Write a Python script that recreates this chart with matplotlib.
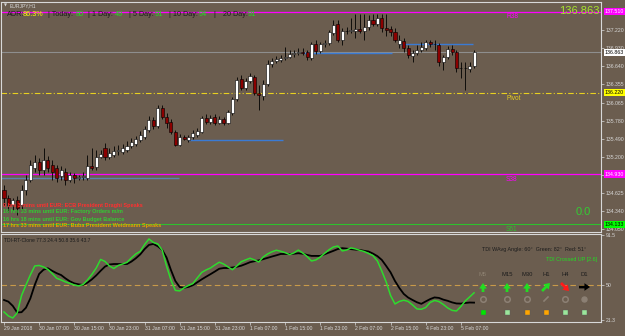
import numpy as np
import matplotlib.pyplot as plt
import matplotlib.transforms as mtransforms

plt.rcParams['font.family'] = ['Liberation Sans', 'DejaVu Sans']

# EURJPY H1 candles (29 Jan 2018 23:00 -> 5 Feb 2018 07:00)
opens = [134.676, 134.549, 134.438, 134.517, 134.438, 134.676, 134.835, 135.026, 135.121, 134.994,
         135.153, 135.074, 135.026, 134.899, 134.962, 134.835, 134.915, 134.867, 134.883, 134.867,
         135.058, 135.042, 135.201, 135.344, 135.201, 135.233, 135.296, 135.280, 135.312, 135.376,
         135.407, 135.471, 135.519, 135.630, 135.789, 135.694, 135.980, 135.837, 135.757, 135.598,
         135.392, 135.519, 135.471, 135.519, 135.551, 135.598, 135.821, 135.757, 135.837, 135.741,
         135.805, 135.741, 135.900, 136.123, 136.441, 136.298, 136.409, 136.473, 136.218, 136.171,
         136.361, 136.679, 136.727, 136.743, 136.775, 136.791, 136.838, 136.854, 136.870, 136.870,
         136.775, 136.997, 136.886, 136.997, 137.013, 137.172, 137.315, 137.061, 137.204, 137.204,
         137.204, 137.236, 137.204, 137.268, 137.379, 137.315, 137.411, 137.252, 137.236, 137.188,
         136.997, 137.045, 136.934, 136.807, 136.854, 136.902, 136.934, 137.029, 136.997, 136.982,
         136.711, 136.791, 136.918, 136.870, 136.616, 136.610, 136.600, 136.648]
highs = [134.756, 134.597, 134.549, 134.581, 134.756, 134.915, 135.153, 135.233, 135.185, 135.344,
         135.217, 135.153, 135.074, 135.058, 135.026, 134.962, 134.946, 134.915, 134.962, 135.233,
         135.344, 135.312, 135.312, 135.423, 135.344, 135.376, 135.392, 135.407, 135.455, 135.503,
         135.535, 135.614, 135.694, 135.853, 135.837, 136.027, 136.027, 135.900, 135.805, 135.630,
         135.566, 135.551, 135.551, 135.630, 135.662, 135.853, 135.884, 135.868, 135.884, 135.853,
         135.837, 135.948, 136.155, 136.473, 136.505, 136.457, 136.536, 136.505, 136.346, 136.425,
         136.743, 136.775, 136.807, 136.822, 136.950, 136.902, 136.902, 136.934, 136.934, 136.902,
         137.029, 137.061, 137.029, 137.061, 137.220, 137.379, 137.379, 137.252, 137.268, 137.411,
         137.474, 137.474, 137.474, 137.458, 137.474, 137.474, 137.474, 137.474, 137.284, 137.252,
         137.141, 137.093, 136.982, 136.902, 136.982, 137.029, 137.061, 137.061, 137.061, 137.013,
         136.822, 136.966, 136.982, 136.902, 136.711, 136.711, 136.711, 136.902]
lows = [134.438, 134.326, 134.358, 134.279, 134.358, 134.597, 134.803, 134.962, 134.915, 134.915,
        134.962, 134.835, 134.803, 134.835, 134.756, 134.803, 134.787, 134.835, 134.835, 134.835,
        134.994, 134.994, 135.185, 135.153, 135.169, 135.201, 135.233, 135.248, 135.280, 135.344,
        135.376, 135.439, 135.487, 135.598, 135.646, 135.662, 135.805, 135.662, 135.566, 135.376,
        135.376, 135.471, 135.439, 135.487, 135.519, 135.582, 135.725, 135.725, 135.710, 135.725,
        135.710, 135.725, 135.868, 136.091, 136.266, 136.266, 136.377, 136.187, 135.948, 136.107,
        136.330, 136.632, 136.695, 136.711, 136.743, 136.775, 136.791, 136.822, 136.822, 136.743,
        136.743, 136.838, 136.854, 136.950, 136.982, 137.141, 137.029, 136.982, 137.156, 137.172,
        137.093, 137.172, 137.061, 137.220, 137.284, 137.284, 137.188, 137.125, 137.125, 137.029,
        136.934, 136.870, 136.775, 136.711, 136.822, 136.870, 136.902, 136.950, 136.902, 136.648,
        136.584, 136.759, 136.822, 136.552, 136.457, 136.266, 136.552, 136.616]
closes = [134.549, 134.438, 134.517, 134.390, 134.676, 134.835, 135.074, 135.121, 134.994, 135.153,
          135.026, 134.962, 134.867, 134.994, 134.835, 134.915, 134.867, 134.883, 134.899, 135.058,
          135.026, 135.201, 135.248, 135.201, 135.264, 135.296, 135.312, 135.344, 135.376, 135.439,
          135.487, 135.551, 135.646, 135.789, 135.694, 135.980, 135.837, 135.741, 135.598, 135.392,
          135.519, 135.487, 135.519, 135.582, 135.614, 135.821, 135.757, 135.821, 135.741, 135.805,
          135.741, 135.916, 136.123, 136.425, 136.298, 136.409, 136.489, 136.218, 136.187, 136.361,
          136.679, 136.727, 136.759, 136.775, 136.791, 136.838, 136.854, 136.870, 136.854, 136.791,
          136.997, 136.886, 136.997, 137.013, 137.188, 137.300, 137.061, 137.204, 137.210, 137.220,
          137.236, 137.204, 137.268, 137.379, 137.315, 137.411, 137.252, 137.220, 137.188, 137.061,
          137.061, 136.934, 136.822, 136.854, 136.902, 136.950, 137.029, 136.997, 136.990, 136.711,
          136.791, 136.918, 136.870, 136.616, 136.610, 136.622, 136.648, 136.863]

# TDI-RT-Clone lines
tdi_green = [27.9, 24.6, 22.9, 27.1, 41.5, 50.2, 58.5, 65.9, 66.3, 65.1,
             63.0, 59.6, 55.7, 54.3, 52.7, 51.5, 50.2, 49.4, 50.6, 54.3,
             58.9, 64.2, 71.3, 69.6, 65.9, 63.8, 66.3, 67.5, 68.9, 72.5,
             75.8, 77.9, 83.6, 88.2, 85.3, 84.1, 79.1, 65.9, 54.3, 45.7,
             45.3, 47.9, 49.8, 51.4, 56.0, 60.5, 62.6, 64.2, 66.7, 69.0,
             67.5, 65.1, 62.8, 65.9, 69.4, 70.9, 72.3, 70.9, 69.2, 73.3,
             75.8, 77.6, 78.9, 78.0, 76.9, 75.3, 76.7, 79.0, 76.6, 73.7,
             70.0, 70.9, 73.3, 76.4, 79.3, 81.6, 82.4, 78.3, 79.1, 80.8,
             80.0, 78.8, 77.8, 76.2, 74.4, 70.0, 61.7, 52.7, 41.5, 34.5,
             36.6, 37.6, 36.6, 33.7, 30.4, 30.1, 31.6, 35.7, 37.4, 36.5,
             34.1, 31.2, 29.2, 28.7, 32.4, 37.0, 40.3, 43.7]
tdi_signal = [37.8, 36.4, 32.9, 27.5, 27.7, 31.4, 39.1, 50.2, 59.3, 62.8,
              64.0, 61.8, 59.9, 58.4, 55.6, 53.2, 51.5, 50.7, 50.2, 52.1,
              54.8, 58.1, 61.9, 65.4, 67.1, 67.5, 67.5, 67.5, 67.5, 69.5,
              72.2, 75.4, 79.8, 83.3, 84.1, 82.2, 79.2, 72.9, 62.6, 53.5,
              48.5, 47.9, 48.6, 50.0, 52.4, 54.8, 57.0, 59.1, 61.3, 63.6,
              64.2, 64.2, 64.6, 65.2, 66.1, 67.5, 69.0, 69.8, 70.5, 71.5,
              72.6, 73.7, 74.7, 75.8, 75.8, 75.8, 76.0, 76.4, 76.0, 75.0,
              74.2, 74.2, 74.2, 75.6, 77.0, 78.4, 79.9, 80.6, 80.2, 79.8,
              79.4, 79.1, 78.4, 77.8, 76.1, 74.0, 70.9, 65.9, 60.6, 53.5,
              47.7, 42.8, 39.8, 37.8, 35.9, 34.6, 36.6, 38.5, 39.9, 39.5,
              38.1, 37.1, 35.8, 34.9, 34.8, 35.3, 35.7, 35.6]

time_labels = ['29 Jan 2018', '30 Jan 07:00', '30 Jan 15:00', '30 Jan 23:00', '31 Jan 07:00',
               '31 Jan 15:00', '31 Jan 23:00', '1 Feb 07:00', '1 Feb 15:00', '1 Feb 23:00',
               '2 Feb 07:00', '2 Feb 15:00', '4 Feb 23:00', '5 Feb 07:00']
label_bars = [0, 8, 16, 24, 32, 40, 48, 56, 64, 72, 80, 88, 96, 104]

price_ticks = [137.220, 136.930, 136.640, 136.355, 136.065, 135.780, 135.490,
               135.200, 134.915, 134.625, 134.340, 134.050]

# pivot levels
pivot = 136.220
r38 = 137.510
s38 = 134.930
s61 = 134.133
bid = 136.863

# support / resistance segments: (start bar, end bar, price)
seg_start = [-0.7, 41.8, 68.2, 90.2]
seg_end = [39.8, 63.6, 88.4, 106.8]
seg_price = [134.867, 135.471, 136.860, 136.997]

bg = '#6B5D4F'
axcol = '#D8D8D8'
dark = '#1C1C1C'

fig = plt.figure(figsize=(6.25, 3.36), dpi=100, facecolor=bg)
ax = fig.add_axes([1 / 625, 104 / 336, 600 / 625, 230 / 336], facecolor=bg)
ax2 = fig.add_axes([1 / 625, 14 / 336, 600 / 625, 88 / 336], facecolor=bg)

n = len(closes)
x = np.arange(n)
o = np.array(opens)
c = np.array(closes)
up = c >= o

ax.vlines(x, lows, highs, color='black', lw=0.6, zorder=3)
ax.bar(x[up], (c - o)[up], bottom=o[up], width=0.7, color='white',
       edgecolor='black', lw=0.4, zorder=4)
ax.bar(x[~up], (c - o)[~up], bottom=o[~up], width=0.7, color='#8B0000',
       edgecolor='black', lw=0.4, zorder=4)

ax.axhline(r38, color='#FF00FF', lw=0.9, zorder=2)
ax.axhline(bid, color='#8E8E8E', lw=0.8, zorder=1)
ax.axhline(pivot, color='#E8D020', lw=0.8, ls=(0, (5, 2, 1, 2)), zorder=2)
ax.axhline(s38, color='#FF00FF', lw=0.9, zorder=2)
ax.axhline(s61, color='#2EC02E', lw=0.8, zorder=2)
for xs, xe, p in zip(seg_start, seg_end, seg_price):
    col = '#5C82B0' if xs < 0 else '#3A7BD5'
    ax.hlines(p, xs, xe, color=col, lw=1.0, zorder=2)

lvl_kw = dict(fontsize=4.7, va='top', ha='left')
ax.text(114.3, r38 - 0.02, 'R38', color='#FF00FF', **lvl_kw)
ax.text(114.3, pivot - 0.03, 'Pivot', color='#E8D020', **lvl_kw)
ax.text(114.3, s38 - 0.03, 'S38', color='#FF00FF', **lvl_kw)
ax.text(114.3, s61 - 0.03, 'S61', color='#2EC02E', **lvl_kw)

ax.set_xlim(-0.68, 135.9)
ax.set_ylim(134.008, 137.665)
ax.set_xticks([])
ax.yaxis.tick_right()
ax.set_yticks(price_ticks)
ax.set_yticklabels([f'{t:.3f}' for t in price_ticks])

# highlighted price labels on the axis
trans = mtransforms.blended_transform_factory(ax.transAxes, ax.transData)
for val, fc, tc in [(r38, '#FF00FF', 'white'), (bid, 'white', 'black'),
                    (pivot, '#FFFF00', 'black'), (s38, '#FF00FF', 'white'),
                    (s61, '#00FF00', 'black')]:
    ax.text(1.006, val, f'{val:.3f}', transform=trans, fontsize=3.8, color=tc,
            va='center', ha='left', clip_on=False, zorder=10,
            bbox=dict(boxstyle='square,pad=0.2', fc=fc, ec='none'))

# indicator panel
ax2.axhline(50, color='#C89A4A', lw=0.8, ls=(0, (5, 3)))
ax2.plot(x, tdi_signal, color='black', lw=1.3)
ax2.plot(x, tdi_green, color='#2EDB2E', lw=1.1)
ax2.set_xlim(-0.68, 135.9)
ax2.set_ylim(19.6, 92.3)
ax2.yaxis.tick_right()
ax2.set_yticks([91.5, 50, 21.3])
ax2.set_yticklabels(['91.5', '50', '21.3'])
ax2.set_xticks(label_bars)
ax2.set_xticklabels(time_labels, ha='left')

for a in (ax, ax2):
    for s in a.spines.values():
        s.set_color(axcol)
        s.set_linewidth(0.8)
    a.tick_params(colors=axcol, labelsize=3.7, length=2, width=0.5, pad=1.2)

# overlay in pixel space for the chart texts / widgets
ov = fig.add_axes([0, 0, 1, 1], facecolor='none')
ov.set_xlim(0, 625)
ov.set_ylim(336, 0)
ov.set_axis_off()

ov.text(4, 5.5, '▼', fontsize=2.8, color=axcol, va='center', family='DejaVu Sans')
ov.text(10, 5.5, 'EURJPY,H1', fontsize=3.6, color=axcol, va='center')

adr_parts = [(7, 'ADR:', dark), (23, '86.3%', '#FFFF00'), (48, '| Today:', dark), (76, '80', '#22DD22'),
             (88, '| 1 Day:', dark), (115, '49', '#22DD22'), (129, '| 5 Day:', dark), (155, '91', '#22DD22'),
             (169, '| 10 Day:', dark), (199, '94', '#22DD22'), (213, '|', dark), (223, '20 Day:', dark),
             (248, '91', '#22DD22')]
for px, s, col in adr_parts:
    ov.text(px, 14.5, s, fontsize=5.2, color=col, va='center', ha='left')

ov.text(600, 10.5, '136.863', fontsize=8, color='#A6E22E', va='center', ha='right')
ov.text(591, 212, '0.0', fontsize=8, color='#33CC33', va='center', ha='right')

news = [('0 hrs 3 mins until EUR: ECB President Draghi Speaks', '#FF3030'),
        ('16 hrs 33 mins until EUR: Factory Orders m/m', '#33CC33'),
        ('16 hrs 18 mins until EUR: Gov Budget Balance', '#33CC33'),
        ('17 hrs 33 mins until EUR: Buba President Weidmann Speaks', '#E8A000')]
for k, (s, col) in enumerate(news):
    ov.text(3, 205 + 7 * k, s, fontsize=4.0, color=col, va='center', ha='left', weight='bold')

ov.text(4, 240, 'TDI-RT-Clone 77.3 24.4 50.8 35.6 43.7', fontsize=3.6, color=dark, va='center')
ov.text(482, 250, 'TDI WAvg Angle: 60°  Green: 82°  Red: 51°', fontsize=3.9, color=dark,
        va='center', ha='left')
ov.text(597, 259, 'TDI Crossed UP [2.6]', fontsize=3.9, color='#22DD22', va='center', ha='right')

tf_x = [483, 507, 527, 546, 565, 584]
tf_names = ['M5', 'M15', 'M30', 'H1', 'H4', 'D1']
for px, name in zip(tf_x, tf_names):
    ov.text(px, 275, name, fontsize=4.2, color='#8C8070' if name == 'M5' else dark,
            ha='center', va='center')

arrow_kw = dict(arrowstyle='simple,head_width=1.1,head_length=0.8,tail_width=0.4',
                mutation_scale=5, lw=0, shrinkA=0, shrinkB=0)
for px in tf_x[:3]:
    ov.annotate('', xy=(px, 283), xytext=(px, 292), arrowprops=dict(color='#22DD22', **arrow_kw))
ov.annotate('', xy=(550, 283), xytext=(542, 291), arrowprops=dict(color='#22DD22', **arrow_kw))
ov.annotate('', xy=(569, 291), xytext=(561, 283), arrowprops=dict(color='#FF1A1A', **arrow_kw))
ov.annotate('', xy=(590, 287), xytext=(579, 287), arrowprops=dict(color='black', **arrow_kw))

for px in [483, 507, 527, 565]:
    ov.plot(px, 299, 'o', ms=4, mfc='none', mec='#8C8074', mew=1.1)
ov.plot([544, 548], [301, 297], color='#8C8074', lw=1.2)
ov.plot(584, 299, 'o', ms=3.6, color='#8C8074')

sq_cols = ['#00E600', '#9BE69B', '#FFA500', '#FFA500', '#9BE69B', '#9BE69B']
for px, col in zip(tf_x, sq_cols):
    ov.plot(px, 312, 's', ms=3.6, color=col, mec='#5A5A5A', mew=0.3)

fig.savefig('out.png', dpi=100, facecolor=bg)
